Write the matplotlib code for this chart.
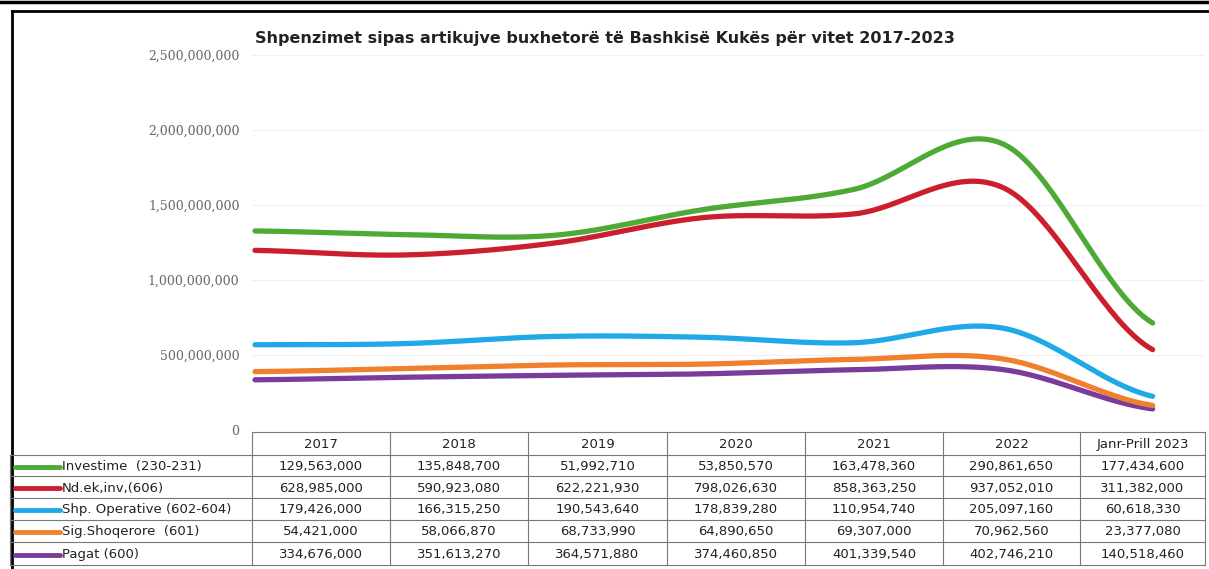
import numpy as np
import matplotlib.pyplot as plt

years = ["2017", "2018", "2019", "2020", "2021", "2022", "Janr-Prill 2023"]
series = ["Investime  (230-231)", "Nd.ek,inv,(606)", "Shp. Operative (602-604)",
          "Sig.Shoqerore  (601)", "Pagat (600)"]
investime = [129563000, 135848700, 51992710, 53850570, 163478360, 290861650, 177434600]
nd_ek_inv = [628985000, 590923080, 622221930, 798026630, 858363250, 937052010, 311382000]
shp_operative = [179426000, 166315250, 190543640, 178839280, 110954740, 205097160, 60618330]
sig_shoqerore = [54421000, 58066870, 68733990, 64890650, 69307000, 70962560, 23377080]
pagat = [334676000, 351613270, 364571880, 374460850, 401339540, 402746210, 140518460]
colors = ["#4caa35", "#cc1f2e", "#1fa9e6", "#f0802e", "#7a3c9c"]

W, H = 1209, 569
fig = plt.figure(figsize=(W / 100, H / 100), dpi=100)


def smooth(x, y, n=40):
    # catmull-rom style smoothing like excel "smoothed line"
    x = np.asarray(x, float)
    y = np.asarray(y, float)
    px = np.concatenate([[2 * x[0] - x[1]], x, [2 * x[-1] - x[-2]]])
    py = np.concatenate([[y[0]], y, [y[-1]]])
    xs, ys = [], []
    for i in range(1, len(px) - 2):
        t = np.linspace(0, 1, n)
        p0, p1, p2, p3 = py[i - 1], py[i], py[i + 1], py[i + 2]
        ys.append(0.5 * ((2 * p1) + (-p0 + p2) * t + (2 * p0 - 5 * p1 + 4 * p2 - p3) * t ** 2
                         + (-p0 + 3 * p1 - 3 * p2 + p3) * t ** 3))
        xs.append(px[i] + (px[i + 1] - px[i]) * t)
    return np.concatenate(xs), np.concatenate(ys)


# main plot axes (pixel placement)
left, right, top, bottom = 252, 1205, 55, 430
ax = fig.add_axes([left / W, 1 - bottom / H, (right - left) / W, (bottom - top) / H])
ax.set_ylim(0, 2.5e9)
ax.set_xlim(-0.02, 6.35)
ax.set_yticks(np.arange(0, 2.5e9 + 1, 5e8))
ax.set_yticklabels([f"{int(v):,}" for v in np.arange(0, 2.5e9 + 1, 5e8)],
                   fontsize=9, color="#666666", family="DejaVu Serif")
ax.tick_params(axis="y", length=0, pad=9)
ax.set_xticks([])
for s in ax.spines.values():
    s.set_visible(False)
ax.grid(axis="y", color="#f0f0f0", linewidth=0.8)
ax.set_axisbelow(True)

stack_order = [pagat, sig_shoqerore, shp_operative, nd_ek_inv, investime]
stack_colors = [colors[4], colors[3], colors[2], colors[1], colors[0]]
cum = np.zeros(len(years))
x = np.arange(len(years))
for vals, c in zip(stack_order, stack_colors):
    cum = cum + np.array(vals, float)
    sx, sy = smooth(x, cum)
    ax.plot(sx, sy, color=c, linewidth=3.8, solid_capstyle="round", zorder=3)

# overlay axes for frame, title and data table
ov = fig.add_axes([0, 0, 1, 1])
ov.set_xlim(0, W)
ov.set_ylim(H, 0)
ov.axis("off")
ov.patch.set_alpha(0)

ov.plot([0, W], [1.5, 1.5], color="black", linewidth=2.5)
ov.plot([12, W], [11, 11], color="black", linewidth=2)
ov.plot([12, 12], [11, H], color="black", linewidth=2)

ov.text(605, 38, "Shpenzimet sipas artikujve buxhetorë të Bashkisë Kukës për vitet 2017-2023",
        ha="center", va="center", fontsize=11.5, fontweight="bold", color="#222222")

col_edges = [252, 390, 528, 667, 805, 943, 1080, 1205]
row_edges = [432, 455, 476, 498, 520, 542, 565]
grid_c = "#777777"
ov.plot([252, 1205], [row_edges[0]] * 2, color=grid_c, linewidth=0.8)
for yy in row_edges[1:]:
    ov.plot([10, 1205], [yy, yy], color=grid_c, linewidth=0.8)
for xx in col_edges:
    ov.plot([xx, xx], [row_edges[0], row_edges[-1]], color=grid_c, linewidth=0.8)
ov.plot([10, 10], [row_edges[1], row_edges[-1]], color=grid_c, linewidth=0.8)

for j, yr in enumerate(years):
    cx = (col_edges[j] + col_edges[j + 1]) / 2
    ov.text(cx, (row_edges[0] + row_edges[1]) / 2 + 1, yr, ha="center", va="center",
            fontsize=9.5, color="#222222")

table_rows = [investime, nd_ek_inv, shp_operative, sig_shoqerore, pagat]
for i, (name, vals) in enumerate(zip(series, table_rows)):
    cy = (row_edges[i + 1] + row_edges[i + 2]) / 2 + 1
    ov.plot([15, 60], [cy, cy], color=colors[i], linewidth=3.5, solid_capstyle="round")
    ov.text(62, cy, name, ha="left", va="center", fontsize=9.5, color="#222222")
    for j, v in enumerate(vals):
        cx = (col_edges[j] + col_edges[j + 1]) / 2
        ov.text(cx, cy, f"{v:,}", ha="center", va="center", fontsize=9.5, color="#222222")

fig.savefig("out.png", dpi=100)
